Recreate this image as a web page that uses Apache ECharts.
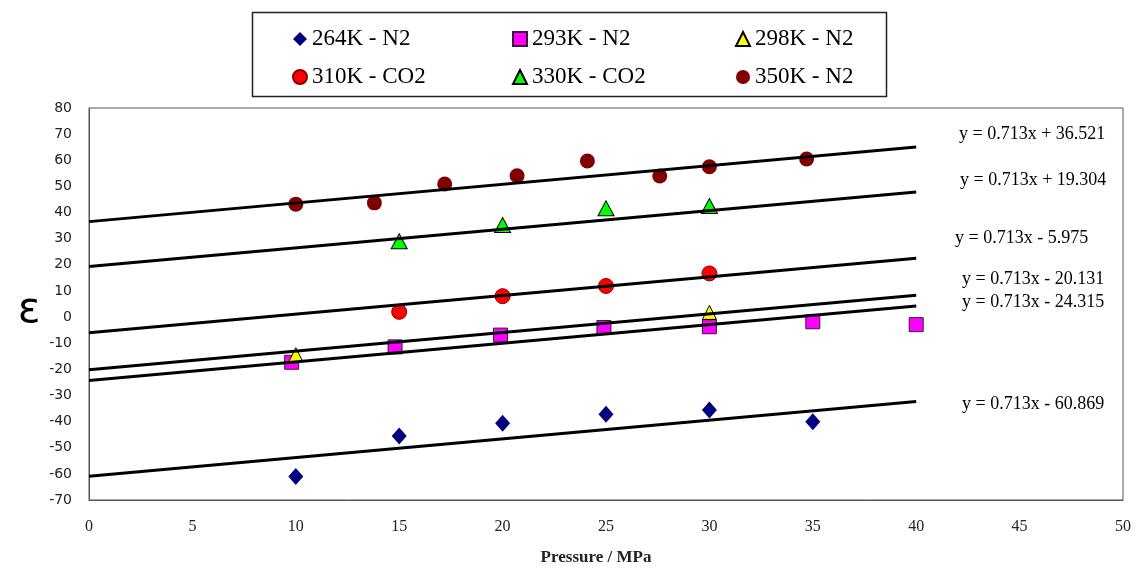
<!DOCTYPE html>
<html>
<head>
<meta charset="utf-8">
<script src="https://cdn.jsdelivr.net/npm/echarts@6/dist/echarts.min.js"></script>
<style>html,body{margin:0;padding:0;background:#fff;}#main{width:1135px;height:570px;}</style>
</head>
<body>
<div id="main"></div>
<script>
// ---- data ----
var seriesNames = ['264K - N2', '293K - N2', '298K - N2', '310K - CO2', '330K - CO2', '350K - N2'];
var x264 = [10, 15, 20, 25, 30, 35];
var y264 = [-61, -45.5, -40.6, -37.2, -35.6, -40.1];
var x293 = [9.8, 14.8, 19.9, 24.9, 30, 35, 40];
var y293 = [-17.3, -11.4, -6.9, -4.0, -3.7, -1.8, -2.9];
var x298 = [10, 30];
var y298 = [-14.4, 1.8];
var x310 = [15, 20, 25, 30];
var y310 = [2.0, 8.0, 11.9, 16.7];
var x330 = [15, 20, 25, 30];
var y330 = [29.0, 35.2, 41.6, 42.5];
var x350 = [10, 13.8, 17.2, 20.7, 24.1, 27.6, 30, 34.7];
var y350 = [43.2, 43.7, 50.9, 54.1, 59.7, 54.0, 57.5, 60.5];
// trendline equations shown on the chart (y = slope*x + intercept), fitted over x = 0..40
var trendSlope = 0.713;
var trendIntercepts = [36.521, 19.304, -5.975, -20.131, -24.315, -60.869];
var trendRange = [0, 40];
var xTicks = {min: 0, max: 50, interval: 5};
var yTicks = {min: -70, max: 80, interval: 10};

// ---- layout / style ----
var eqPos = [[959, 134], [960, 180], [955, 238], [962, 279], [962, 302], [962, 404]];
var serif = "'Liberation Serif', 'DejaVu Serif', serif";

function pairs(xs, ys) { return xs.map(function (x, i) { return [x, ys[i]]; }); }

var styles = [
  {symbol: 'diamond', size: [15, 17], color: '#000080', border: '#000080', bw: 0},
  {symbol: 'rect', size: 14, color: '#FF00FF', border: '#3a1a3a', bw: 1},
  {symbol: 'triangle', size: [14, 14], color: '#FFFF00', border: '#000000', bw: 1},
  {symbol: 'circle', size: 15, color: '#FF0000', border: '#8a0000', bw: 1},
  {symbol: 'triangle', size: [16, 15], color: '#00FF00', border: '#000000', bw: 1},
  {symbol: 'circle', size: 15, color: '#800000', border: '#800000', bw: 0}
];
var dataSets = [pairs(x264, y264), pairs(x293, y293), pairs(x298, y298),
                pairs(x310, y310), pairs(x330, y330), pairs(x350, y350)];

var series = [];
seriesNames.forEach(function (n, i) {
  var s = styles[i];
  series.push({
    name: n, type: 'scatter', data: dataSets[i], symbol: s.symbol, symbolSize: s.size,
    itemStyle: {color: s.color, borderColor: s.border, borderWidth: s.bw, opacity: 1},
    emphasis: {disabled: true}, z: 2
  });
});
trendIntercepts.forEach(function (b) {
  series.push({
    type: 'line', silent: true, showSymbol: false, symbol: 'none', z: 3,
    lineStyle: {color: '#000', width: 3},
    data: trendRange.map(function (x) { return [x, trendSlope * x + b]; })
  });
});

var graphics = [{
  type: 'rect', shape: {x: 252.5, y: 12.5, width: 634, height: 84},
  style: {fill: 'none', stroke: '#222', lineWidth: 1.5}
}, {
  type: 'text', x: 29, y: 311,
  style: {text: 'ε', font: "42px 'DejaVu Sans', sans-serif", fill: '#000', align: 'center', verticalAlign: 'middle'}
}];
trendIntercepts.forEach(function (b, i) {
  var sign = b >= 0 ? ' + ' : ' - ';
  graphics.push({
    type: 'text', x: eqPos[i][0], y: eqPos[i][1],
    style: {text: 'y = ' + trendSlope + 'x' + sign + Math.abs(b).toFixed(3),
            font: '18px ' + serif, fill: '#000', verticalAlign: 'middle'}
  });
});

function legendCol(left, names) {
  return {
    orient: 'vertical', left: left, top: 22, itemGap: 14, itemWidth: 14, itemHeight: 14,
    data: names, selectedMode: false,
    textStyle: {fontFamily: serif, fontSize: 23, color: '#000', lineHeight: 24}
  };
}

var chart = echarts.init(document.getElementById('main'), null, {renderer: 'canvas'});
chart.setOption({
  animation: false,
  backgroundColor: '#fff',
  grid: {left: 89, top: 108, right: 12, bottom: 70, outerBoundsMode: 'none', show: true, borderColor: '#555', borderWidth: 1, backgroundColor: 'transparent'},
  legend: [legendCol(287, [seriesNames[0], seriesNames[3]]),
           legendCol(507, [seriesNames[1], seriesNames[4]]),
           legendCol(730, [seriesNames[2], seriesNames[5]])],
  xAxis: {
    type: 'value', min: xTicks.min, max: xTicks.max, interval: xTicks.interval,
    axisLine: {show: true, onZero: false, lineStyle: {color: '#555'}},
    axisTick: {show: false}, splitLine: {show: false},
    axisLabel: {margin: 19, fontFamily: serif, fontSize: 16, color: '#222'},
    name: 'Pressure / MPa', nameLocation: 'middle', nameGap: 49,
    nameTextStyle: {fontFamily: serif, fontSize: 17, fontWeight: 'bold', color: '#222', padding: [0, 20, 0, 0]}
  },
  yAxis: {
    type: 'value', min: yTicks.min, max: yTicks.max, interval: yTicks.interval,
    axisLine: {show: true, lineStyle: {color: '#555'}},
    axisTick: {show: false}, splitLine: {show: false},
    axisLabel: {margin: 17, fontFamily: "'DejaVu Sans', sans-serif", fontSize: 14, color: '#222'}
  },
  graphic: graphics,
  series: series
});
</script>
</body>
</html>
